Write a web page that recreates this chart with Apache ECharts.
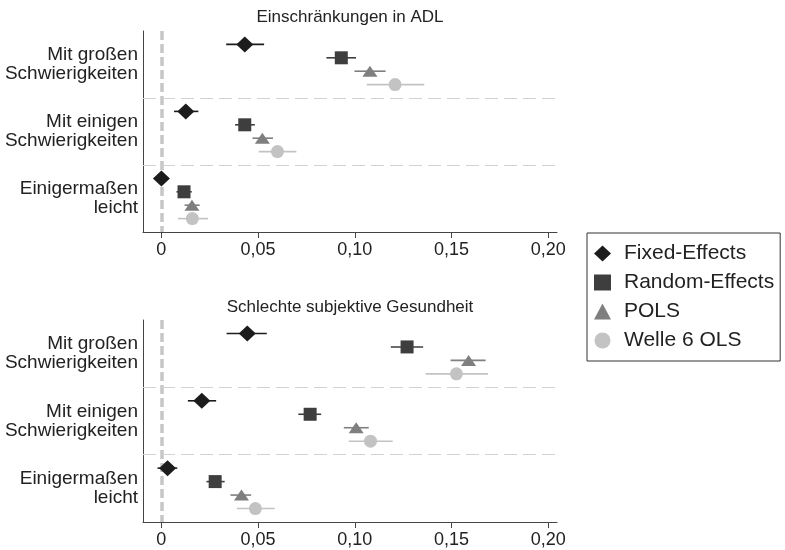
<!DOCTYPE html>
<html>
<head>
<meta charset="utf-8">
<script src="https://cdn.jsdelivr.net/npm/echarts@6/dist/echarts.min.js"></script>
<style>html,body{margin:0;padding:0;background:#fff}#c{width:785px;height:550px}</style>
</head>
<body>
<div id="c"></div>
<script>
// ---- data ----
const methods = ['Fixed-Effects', 'Random-Effects', 'POLS', 'Welle 6 OLS'];
const categories = ['Mit großen\nSchwierigkeiten', 'Mit einigen\nSchwierigkeiten', 'Einigermaßen\nleicht'];
const panelTitles = ['Einschränkungen in ADL', 'Schlechte subjektive Gesundheit'];
const xTicks = [0, 0.05, 0.10, 0.15, 0.20];

// [estimate, lower CI, upper CI] per category
const adl_FE   = [[0.0431, 0.0335, 0.0531], [0.0126, 0.0065, 0.0191], [0.0000, -0.0025, 0.0025]];
const adl_RE   = [[0.0930, 0.0853, 0.1006], [0.0431, 0.0381, 0.0483], [0.0117, 0.0078, 0.0157]];
const adl_POLS = [[0.1078, 0.0998, 0.1159], [0.0522, 0.0471, 0.0577], [0.0158, 0.0120, 0.0198]];
const adl_OLS6 = [[0.1208, 0.1062, 0.1359], [0.0600, 0.0503, 0.0698], [0.0160, 0.0086, 0.0241]];

const sah_FE   = [[0.0444, 0.0337, 0.0545], [0.0209, 0.0137, 0.0283], [0.0032, -0.0020, 0.0082]];
const sah_RE   = [[0.1270, 0.1186, 0.1353], [0.0769, 0.0708, 0.0826], [0.0278, 0.0233, 0.0327]];
const sah_POLS = [[0.1588, 0.1495, 0.1676], [0.1007, 0.0943, 0.1072], [0.0414, 0.0357, 0.0464]];
const sah_OLS6 = [[0.1525, 0.1366, 0.1688], [0.1081, 0.0969, 0.1196], [0.0486, 0.0390, 0.0586]];

const panels = [[adl_FE, adl_RE, adl_POLS, adl_OLS6], [sah_FE, sah_RE, sah_POLS, sah_OLS6]];

// ---- styles ----
const colors = ['#1c1c1c', '#3e3e3e', '#7f7f7f', '#c3c3c3'];
const symbols = ['diamond', 'rect', 'triangle', 'circle'];
const symbolSizes = [[17, 16], [13, 13], [15, 11], [13, 13]];
const FONT = '"Liberation Sans", Arial, sans-serif';

function fmt(v) {
  if (Math.abs(v) < 1e-9) return '0';
  return v.toFixed(2).replace('.', ',');
}
function yPos(c, m) { return c * 5 + m + 1; }

const grids = [
  { left: 143, top: 31, width: 414, height: 201 },
  { left: 143, top: 320, width: 414, height: 202 }
];

const xAxes = grids.map((g, i) => ({
  type: 'value', gridIndex: i, min: -0.0095, max: 0.2045, position: 'bottom',
  axisLine: { show: true, onZero: false, lineStyle: { color: '#444', width: 1 } },
  axisTick: { show: true, length: 6, customValues: xTicks, lineStyle: { color: '#444' } },
  axisLabel: { customValues: xTicks, formatter: fmt, margin: 9, fontSize: 18, color: '#222', fontFamily: FONT },
  splitLine: { show: false }
}));

const yAxes = grids.map((g, i) => ({
  type: 'value', gridIndex: i, min: 0, max: 15, inverse: true, position: 'left',
  axisLine: { show: true, onZero: false, lineStyle: { color: '#444', width: 1 } },
  axisTick: { show: false },
  axisLabel: {
    customValues: [2.5, 7.5, 12.5],
    formatter: v => categories[Math.round((v - 2.5) / 5)],
    margin: 5, fontSize: 19, lineHeight: 19, color: '#222', fontFamily: FONT, align: 'right'
  },
  splitLine: { show: false }
}));

const series = [];
panels.forEach((panel, p) => {
  panel.forEach((rows, m) => {
    // error bars
    series.push({
      type: 'custom', xAxisIndex: p, yAxisIndex: p, silent: true, z: 3,
      encode: { x: [0, 1], y: 2 },
      data: rows.map((r, c) => [r[1], r[2], yPos(c, m)]),
      renderItem: (params, api) => {
        const a = api.coord([api.value(0), api.value(2)]);
        const b = api.coord([api.value(1), api.value(2)]);
        return { type: 'line', shape: { x1: a[0], y1: a[1], x2: b[0], y2: b[1] },
                 style: { stroke: colors[m], lineWidth: 1.6 } };
      },
      markLine: m === 0 ? {
        silent: true, symbol: 'none', label: { show: false }, animation: false,
        data: [
          { xAxis: 0, lineStyle: { color: '#c6c6c6', width: 3.5, type: [9, 4] } },
          { yAxis: 5, lineStyle: { color: '#d2d2d2', width: 1, type: [13, 6] } },
          { yAxis: 10, lineStyle: { color: '#d2d2d2', width: 1, type: [13, 6] } }
        ]
      } : undefined
    });
    // markers
    series.push({
      type: 'scatter', name: methods[m], xAxisIndex: p, yAxisIndex: p, z: 5,
      symbol: symbols[m], symbolSize: symbolSizes[m],
      itemStyle: { color: colors[m], opacity: 1 },
      data: rows.map((r, c) => [r[0], yPos(c, m)])
    });
  });
});

const chart = echarts.init(document.getElementById('c'), null, { renderer: 'canvas' });
chart.setOption({
  animation: false,
  backgroundColor: '#fff',
  title: panelTitles.map((t, i) => ({
    text: t, left: 350, top: i === 0 ? 9 : 299, textAlign: 'center', padding: 0,
    textStyle: { fontSize: 17, fontWeight: 'normal', color: '#222', fontFamily: FONT }
  })),
  legend: {
    orient: 'vertical', left: 587, top: 233,
    padding: [10, 6, 10, 7], itemGap: 8, itemWidth: 17, itemHeight: 16,
    borderColor: '#333', borderWidth: 1,
    textStyle: { fontSize: 21, color: '#222', fontFamily: FONT, padding: [0, 0, 0, 8] },
    data: methods.map((n, i) => ({ name: n, icon: symbols[i] })),
    selectedMode: false
  },
  grid: grids,
  xAxis: xAxes,
  yAxis: yAxes,
  series: series
});
</script>
</body>
</html>
